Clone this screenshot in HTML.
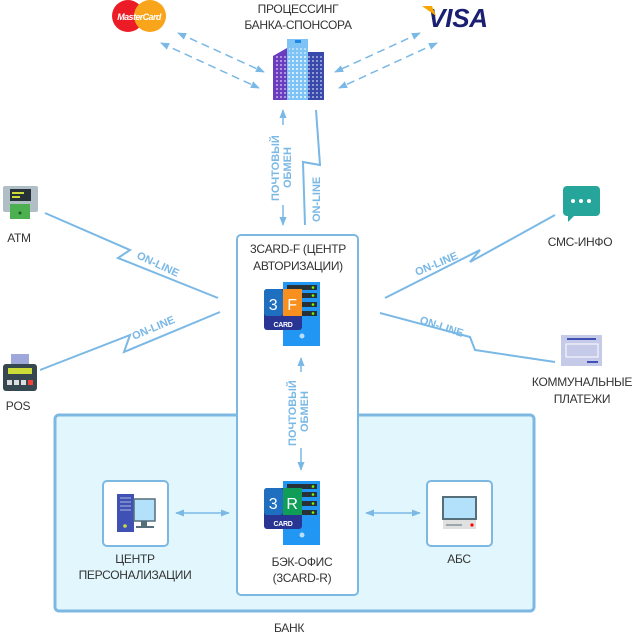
<!DOCTYPE html>
<html><head><meta charset="utf-8"><style>
html,body{margin:0;padding:0;background:#fff}
svg{display:block}
text{font-family:"Liberation Sans",sans-serif;fill:#333;font-size:12px;letter-spacing:-0.3px}
.l{fill:#7ab8e6;font-weight:bold;font-size:11px;letter-spacing:0}
</style></head><body>
<svg width="635" height="636" viewBox="0 0 635 636" xmlns="http://www.w3.org/2000/svg">
<defs>
<marker id="a" viewBox="0 0 10 10" refX="9" refY="5" markerWidth="6" markerHeight="6" orient="auto-start-reverse"><path d="M0,1 L10,5 L0,9 z" fill="#7ab8e6"/></marker>
<pattern id="w" width="4" height="4" patternUnits="userSpaceOnUse"><rect width="2" height="2" fill="#fff" opacity=".45"/></pattern>
</defs>
<rect x="55" y="415" width="479" height="196" rx="4" fill="#e1f7fd" stroke="#7db8e3" stroke-width="3"/>
<text x="289" y="632" text-anchor="middle">БАНК</text>
<rect x="237" y="235" width="121" height="360" rx="4" fill="#fff" stroke="#7db8e3" stroke-width="2"/>
<text x="298" y="253" text-anchor="middle">3CARD-F (ЦЕНТР</text>
<text x="298" y="270" text-anchor="middle">АВТОРИЗАЦИИ)</text>
<text x="302" y="566" text-anchor="middle">БЭК-ОФИС</text>
<text x="302" y="582" text-anchor="middle">(3CARD-R)</text>
<rect x="103" y="481" width="65" height="65" rx="4" fill="#fff" stroke="#7db8e3" stroke-width="2"/>
<rect x="427" y="481" width="65" height="65" rx="4" fill="#fff" stroke="#7db8e3" stroke-width="2"/>
<text x="135" y="563" text-anchor="middle">ЦЕНТР</text>
<text x="135" y="579" text-anchor="middle">ПЕРСОНАЛИЗАЦИИ</text>
<text x="459" y="563" text-anchor="middle">АБС</text>
<rect x="117" y="494" width="17" height="38" fill="#3f51b5"/>
<g stroke="#9fa8da" stroke-width="1.2"><line x1="120" y1="498" x2="131" y2="498"/><line x1="120" y1="502" x2="131" y2="502"/><line x1="120" y1="506" x2="131" y2="506"/><line x1="120" y1="510" x2="131" y2="510"/></g>
<circle cx="125" cy="526" r="1.8" fill="#cddc39"/>
<rect x="134" y="499" width="21" height="22" fill="#b3e0fb" stroke="#546e7a" stroke-width="1.5"/>
<rect x="141" y="521" width="6" height="5" fill="#546e7a"/><rect x="136" y="526" width="18" height="2" fill="#546e7a"/>
<rect x="443" y="497" width="33" height="22" fill="#b3e0fb" stroke="#546e7a" stroke-width="2"/>
<rect x="443" y="520" width="33" height="9" fill="#e0e0e0"/>
<line x1="446" y1="525" x2="462" y2="525" stroke="#546e7a"/><circle cx="472" cy="525" r="1.6" fill="#f00"/>
<line x1="176" y1="513" x2="229" y2="513" stroke="#7ab8e6" stroke-width="1.5" marker-start="url(#a)" marker-end="url(#a)"/>
<line x1="366" y1="513" x2="420" y2="513" stroke="#7ab8e6" stroke-width="1.5" marker-start="url(#a)" marker-end="url(#a)"/>
<line x1="301" y1="358" x2="301" y2="372" stroke="#7ab8e6" stroke-width="1.5" marker-start="url(#a)"/>
<line x1="301" y1="448" x2="301" y2="470" stroke="#7ab8e6" stroke-width="1.5" marker-end="url(#a)"/>
<text class="l" transform="translate(296,446) rotate(-90)">ПОЧТОВЫЙ</text>
<text class="l" transform="translate(308,432) rotate(-90)">ОБМЕН</text>
<g>
<rect x="283" y="282" width="37" height="64" fill="#2196f3"/>
<g fill="#263238"><rect x="287" y="285" width="30" height="5"/><rect x="287" y="293" width="30" height="5"/><rect x="287" y="302" width="30" height="5"/><rect x="287" y="311" width="30" height="5"/></g>
<g fill="#76ff03"><circle cx="313" cy="287.5" r="1.3"/><circle cx="313" cy="295.5" r="1.3"/><circle cx="313" cy="304.5" r="1.3"/><circle cx="313" cy="313.5" r="1.3"/></g>
<circle cx="302" cy="336" r="2.5" fill="#bbdefb"/>
<rect x="264" y="289" width="38" height="41" rx="3" fill="#283593"/>
<rect x="264" y="289" width="19" height="27" rx="3" fill="#1e6fc0"/><rect x="283" y="289" width="19" height="27" fill="#f7901e"/>
<text x="273" y="310" text-anchor="middle" style="fill:#fff;font-size:16px">3</text>
<text x="292" y="310" text-anchor="middle" style="fill:#fff;font-size:16px">F</text>
<text x="283" y="327" text-anchor="middle" style="fill:#fff;font-size:7px;font-weight:bold">CARD</text>
</g>
<g>
<rect x="283" y="481" width="37" height="64" fill="#2196f3"/>
<g fill="#263238"><rect x="287" y="484" width="30" height="5"/><rect x="287" y="492" width="30" height="5"/><rect x="287" y="501" width="30" height="5"/><rect x="287" y="510" width="30" height="5"/></g>
<g fill="#76ff03"><circle cx="313" cy="486.5" r="1.3"/><circle cx="313" cy="494.5" r="1.3"/><circle cx="313" cy="503.5" r="1.3"/><circle cx="313" cy="512.5" r="1.3"/></g>
<circle cx="302" cy="535" r="2.5" fill="#bbdefb"/>
<rect x="264" y="488" width="38" height="41" rx="3" fill="#283593"/>
<rect x="264" y="488" width="19" height="27" rx="3" fill="#1e6fc0"/><rect x="283" y="488" width="19" height="27" fill="#0f9d58"/>
<text x="273" y="509" text-anchor="middle" style="fill:#fff;font-size:16px">3</text>
<text x="292" y="509" text-anchor="middle" style="fill:#fff;font-size:16px">R</text>
<text x="283" y="526" text-anchor="middle" style="fill:#fff;font-size:7px;font-weight:bold">CARD</text>
</g>
<text x="298" y="13" text-anchor="middle">ПРОЦЕССИНГ</text>
<text x="298" y="29" text-anchor="middle">БАНКА-СПОНСОРА</text>
<polygon points="273,56 287,48 287,100 273,100" fill="#6a3cc0"/>
<rect x="287" y="39" width="21" height="61" fill="#7ec3f5"/>
<rect x="308" y="52" width="16" height="48" fill="#3949ab"/>
<rect x="274" y="56" width="50" height="44" fill="url(#w)"/>
<rect x="289" y="46" width="17" height="54" fill="url(#w)"/>
<rect x="295" y="40" width="6" height="3" fill="#1e88e5"/>
<circle cx="128" cy="16" r="16" fill="#eb1c26"/><circle cx="150" cy="16" r="16" fill="#f9a51b"/>
<text x="139" y="20" text-anchor="middle" style="fill:#fff;font-size:9px;font-weight:bold;font-style:italic;letter-spacing:-0.6px">MasterCard</text>
<text x="458" y="27" text-anchor="middle" style="fill:#1a1f71;font-size:26px;font-weight:bold;font-style:italic">VISA</text>
<polygon points="422,6 432,6 436,16" fill="#f7a600"/>
<g stroke="#7ab8e6" stroke-width="1.5" stroke-dasharray="8,5" fill="none">
<line x1="178" y1="33" x2="264" y2="72" marker-start="url(#a)" marker-end="url(#a)"/>
<line x1="161" y1="43" x2="259" y2="88" marker-start="url(#a)" marker-end="url(#a)"/>
<line x1="420" y1="33" x2="335" y2="72" marker-start="url(#a)" marker-end="url(#a)"/>
<line x1="437" y1="43" x2="339" y2="88" marker-start="url(#a)" marker-end="url(#a)"/>
</g>
<line x1="283" y1="110" x2="283" y2="125" stroke="#7ab8e6" stroke-width="1.5" marker-start="url(#a)"/>
<line x1="283" y1="205" x2="283" y2="225" stroke="#7ab8e6" stroke-width="1.5" marker-end="url(#a)"/>
<text class="l" transform="translate(279,201) rotate(-90)">ПОЧТОВЫЙ</text>
<text class="l" transform="translate(291,188) rotate(-90)">ОБМЕН</text>
<polyline points="316,110 320,165 303,162 305,225" fill="none" stroke="#7ab8e6" stroke-width="2"/>
<text class="l" transform="translate(320,222) rotate(-90)">ON-LINE</text>
<g fill="none" stroke="#7ab8e6" stroke-width="2">
<polyline points="45,213 130,250 118,258 218,298"/>
<polyline points="40,370 130,335 124,352 220,312"/>
<polyline points="385,298 480,250 470,262 555,215"/>
<polyline points="380,313 470,337 475,350 555,362"/>
</g>
<text class="l" transform="translate(136,258) rotate(25)">ON-LINE</text>
<text class="l" transform="translate(134,340) rotate(-23)">ON-LINE</text>
<text class="l" transform="translate(417,276) rotate(-23)">ON-LINE</text>
<text class="l" transform="translate(419,323) rotate(18)">ON-LINE</text>
<rect x="3" y="186" width="35" height="26" rx="2" fill="#b0bec5"/>
<rect x="10" y="189" width="21" height="12" fill="#263238"/>
<rect x="12" y="192" width="12" height="2" fill="#cddc39"/><rect x="12" y="196" width="8" height="2" fill="#cddc39"/>
<rect x="10" y="204" width="20" height="15" fill="#4caf50"/><circle cx="20" cy="213" r="1.5" fill="#1b5e20"/>
<text x="19" y="242" text-anchor="middle">ATM</text>
<rect x="11" y="354" width="18" height="14" fill="#9fa8da"/>
<rect x="3" y="364" width="34" height="27" rx="3" fill="#37474f"/>
<rect x="8" y="368" width="24" height="6" fill="#cddc39"/>
<g fill="#ddd"><rect x="7" y="380" width="5" height="5"/><rect x="14" y="380" width="5" height="5"/><rect x="21" y="380" width="5" height="5"/></g>
<rect x="28" y="380" width="5" height="5" fill="#f44336"/>
<text x="18" y="410" text-anchor="middle">POS</text>
<rect x="563" y="186" width="37" height="30" rx="4" fill="#26a69a"/>
<polygon points="568,214 576,214 568,222" fill="#26a69a"/>
<g fill="#fff"><circle cx="573" cy="201" r="2"/><circle cx="581" cy="201" r="2"/><circle cx="589" cy="201" r="2"/></g>
<text x="580" y="246" text-anchor="middle">СМС-ИНФО</text>
<rect x="561" y="335" width="41" height="31" fill="#c5cae9"/>
<rect x="567" y="338" width="29" height="2" fill="#3f51b5"/>
<rect x="566" y="344" width="32" height="13" fill="none" stroke="#fff"/>
<rect x="587" y="361" width="11" height="2" fill="#3f51b5"/>
<text x="582" y="386" text-anchor="middle">КОММУНАЛЬНЫЕ</text>
<text x="582" y="403" text-anchor="middle">ПЛАТЕЖИ</text>
</svg>
</body></html>
